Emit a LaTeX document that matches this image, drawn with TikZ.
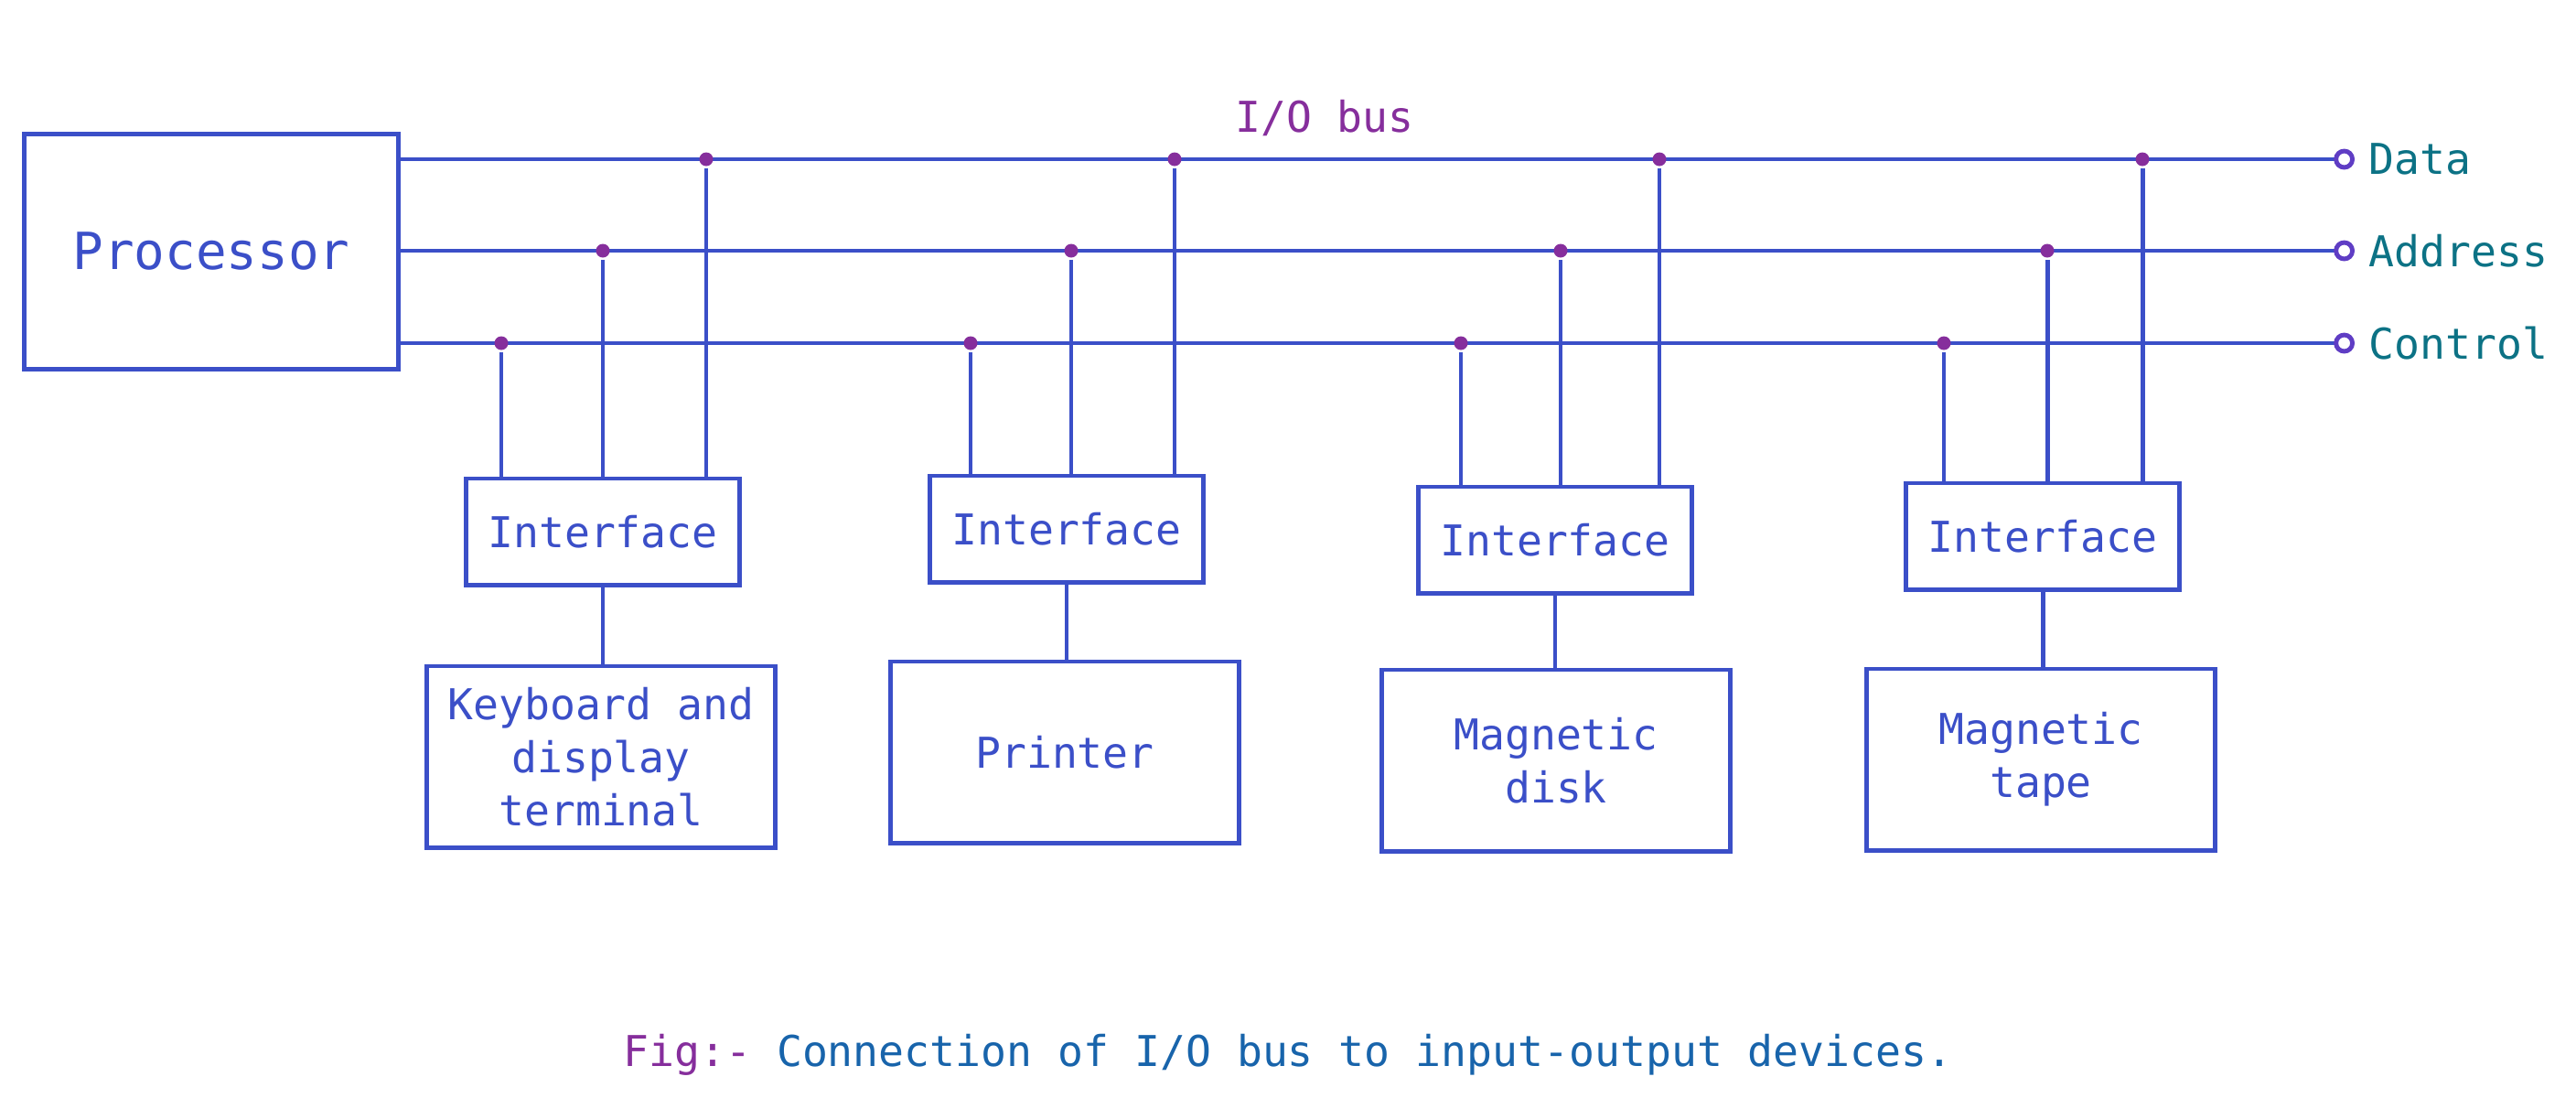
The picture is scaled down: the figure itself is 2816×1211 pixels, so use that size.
\documentclass[tikz,border=0pt]{standalone}
\usepackage{fontspec}
\setmonofont{DejaVu Sans Mono}
\usetikzlibrary{arrows.meta, positioning, calc}
\definecolor{ioBlue}{HTML}{3B4FC8}
\definecolor{ioTeal}{HTML}{0C7285}
\definecolor{ioPurple}{HTML}{862E9C}
\definecolor{ioViolet}{HTML}{5F3DC4}
\definecolor{ioCap}{HTML}{1864AB}

\begin{document}
\begin{tikzpicture}[x=0.01cm, y=-0.01cm, line width=1.4pt,
  font=\ttfamily\fontsize{13.2}{16.5}\selectfont,
  box/.style={draw=ioBlue, text=ioBlue, inner sep=0pt, align=center},
  ifbox/.style={box, minimum width=2.98cm, minimum height=1.16cm},
  devbox/.style={box, minimum width=3.8cm, minimum height=1.98cm},
  bus/.style={draw=ioBlue, -{Circle[open, length=6.5pt, width=6.5pt, color=ioViolet]}},
  wire/.style={draw=ioBlue},
  tap/.style={circle, fill=ioPurple, inner sep=0pt, minimum size=0.15cm},
  buslbl/.style={text=ioTeal, anchor=west, inner sep=0pt}]
\useasboundingbox (0,0) rectangle (2816,1211);
% ---- processor and bus
\node[box, minimum width=4.09cm, minimum height=2.56cm,
      font=\ttfamily\fontsize{15.9}{19}\selectfont] (proc) at (231,275) {Processor};
\node[text=ioPurple] (buslabel) at (1448,129) {I/O bus};
\foreach \y/\name/\txt in {174/data/Data, 274/addr/Address, 375/ctl/Control} {
  \coordinate (\name End) at (2574,\y);
  \draw[bus] (proc.east |- 0,\y) -- (\name End);
  \node[buslbl] (\name Lbl) at (2587,\y) {\txt};
}
% ---- interfaces and devices
\node[ifbox] (if1) at (659,581) {Interface};
\node[ifbox] (if2) at (1166,578) {Interface};
\node[ifbox] (if3) at (1700,590) {Interface};
\node[ifbox] (if4) at (2233,586) {Interface};
\node[devbox] (dev1) at (657,827) {Keyboard and\\display\\terminal};
\node[devbox] (dev2) at (1164,822) {Printer};
\node[devbox] (dev3) at (1701,831) {Magnetic\\disk};
\node[devbox] (dev4) at (2231,830) {Magnetic\\tape};
% ---- taps on the bus
\foreach \i/\c/\a/\d in {1/548/659/772, 2/1061/1171/1284, 3/1597/1706/1814, 4/2125/2238/2342} {
  \node[tap] (ctlTap\i) at (\c,375) {};
  \node[tap] (addrTap\i) at (\a,274) {};
  \node[tap] (dataTap\i) at (\d,174) {};
  \draw[wire] (ctlTap\i) -- (ctlTap\i |- if\i.north);
  \draw[wire] (addrTap\i) -- (addrTap\i |- if\i.north);
  \draw[wire] (dataTap\i) -- (dataTap\i |- if\i.north);
  \draw[wire] (if\i.south) -- (if\i.south |- dev\i.north);
}
% ---- caption
\node[text=ioCap] (caption) at (1408,1153)
  {\textcolor{ioPurple}{Fig:-} Connection of I/O bus to input-output devices.};
\end{tikzpicture}
\end{document}
